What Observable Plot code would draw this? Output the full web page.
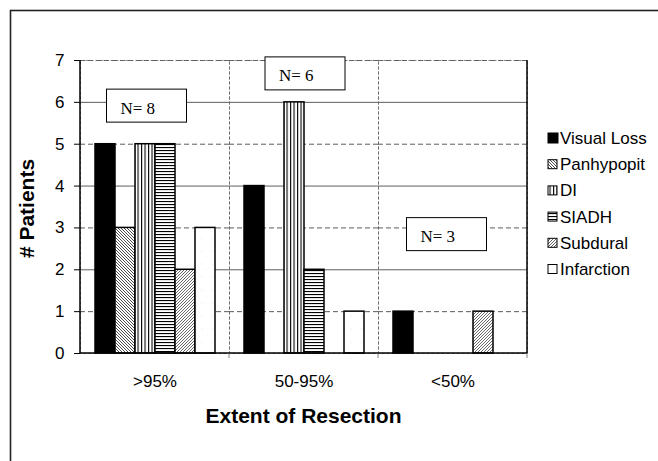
<!DOCTYPE html>
<html><head><meta charset="utf-8">
<script src="https://cdn.jsdelivr.net/npm/d3@7"></script>
<script src="https://cdn.jsdelivr.net/npm/@observablehq/plot@0.6"></script>
<style>body{margin:0;background:#fff}</style>
</head><body><div id="chart"></div>
<script>
// ---- data ----
const groups = [">95%", "50-95%", "<50%"];
const series = ["Visual Loss", "Panhypopit", "DI", "SIADH", "Subdural", "Infarction"];
const visualLoss = [5, 4, 1];
const panhypopit = [3, 0, 0];
const di = [5, 6, 0];
const siadh = [5, 2, 0];
const subdural = [2, 0, 1];
const infarction = [3, 1, 0];
const groupN = [8, 6, 3];
const yTicks = [0, 1, 2, 3, 4, 5, 6, 7];
const xTitle = "Extent of Resection";
const yTitle = "# Patients";

// ---- annotation layout (box centre: pixel offset from group centre, y in data units) ----
const annotDx = [-8, 1.5, -6];
const annotY = [5.91, 6.68, 2.84];

const seriesValues = [visualLoss, panhypopit, di, siadh, subdural, infarction];
const rows = [];
series.forEach((s, i) => groups.forEach((g, j) => rows.push({group: g, series: s, value: seriesValues[i][j]})));
const bars = rows.filter(d => d.value > 0);

const patternIds = ["pVL", "pPan", "pDI", "pSI", "pSub", "pInf"];
const W = 658, H = 461, mL = 79, mR = 130, mT = 60, mB = 108;
const SANS = "'Liberation Sans', Arial, sans-serif";

const plot = Plot.plot({
  width: W, height: H, marginLeft: mL, marginRight: mR, marginTop: mT, marginBottom: mB,
  style: {fontFamily: SANS, fontSize: "17px", color: "#000", background: "transparent"},
  facet: {data: bars, x: "group"},
  fx: {domain: groups, paddingInner: 0, paddingOuter: 0, label: null, axis: "bottom", tickSize: 0, tickPadding: 21},
  x: {domain: series, paddingInner: 0, paddingOuter: 0.7, axis: null},
  y: {domain: [0, 7], ticks: yTicks, tickSize: 6, tickPadding: 10, label: null, tickFormat: d => String(d)},
  color: {domain: series, range: patternIds.map(id => `url(#${id})`)},
  marks: [
    Plot.ruleY(yTicks.filter(v => v > 0 && v % 2 === 0), {stroke: "#333", strokeWidth: 0.8}),
    Plot.ruleY(yTicks.filter(v => v > 0 && v % 2 === 1), {stroke: "#333", strokeWidth: 0.8, strokeDasharray: "5,3"}),
    Plot.frame({stroke: "#666", strokeDasharray: "3,2", strokeWidth: 0.8}),
    Plot.barY(bars, {x: "series", y: "value", fill: "series", stroke: "#000", strokeWidth: 1.5})
  ]
});
document.getElementById("chart").appendChild(plot);

const svg = d3.select(plot);
// force tick label font size
svg.selectAll('g[aria-label*="tick label"]').attr("font-size", 17).style("font-size", "17px");
svg.selectAll('g[aria-label*="tick label"] text').style("font-size", "17px").attr("fill", "#000");

// ---- patterns ----
const defs = svg.insert("defs", ":first-child");
function pat(id, w, h, build) {
  const p = defs.append("pattern").attr("id", id).attr("patternUnits", "userSpaceOnUse")
    .attr("width", w).attr("height", h);
  p.append("rect").attr("width", w).attr("height", h).attr("fill", "#fff");
  build(p);
}
pat("pVL", 4, 4, p => p.append("rect").attr("width", 4).attr("height", 4).attr("fill", "#000"));
pat("pPan", 3, 3, p => p.append("path").attr("d", "M0,0L3,3M-1,2L1,4M2,-1L4,1").attr("stroke", "#000").attr("stroke-width", 0.7));
pat("pDI", 3.5, 4, p => p.append("rect").attr("x", 0).attr("width", 1.1).attr("height", 4).attr("fill", "#000"));
pat("pSI", 4, 3, p => p.append("rect").attr("y", 0).attr("width", 4).attr("height", 1.1).attr("fill", "#000"));
pat("pSub", 3, 3, p => p.append("path").attr("d", "M0,3L3,0M-1,1L1,-1M2,4L4,2").attr("stroke", "#000").attr("stroke-width", 0.6));
pat("pInf", 11, 13, p => {
  p.append("circle").attr("cx", 3).attr("cy", 4).attr("r", 0.4).attr("fill", "#bbb");
  p.append("circle").attr("cx", 8).attr("cy", 10).attr("r", 0.3).attr("fill", "#ccc");
});

// ---- scales ----
const fx = plot.scale("fx");
const ys = plot.scale("y");
const bw = fx.bandwidth;
const left = fx.apply(groups[0]);
const right = fx.apply(groups[groups.length - 1]) + bw;
const y0 = ys.apply(0), y7 = ys.apply(7);

const g = svg.append("g").attr("text-anchor", "start");
// outer page frame (cut off at right/bottom)
g.append("rect").attr("x", 10.5).attr("y", 10.5).attr("width", 800).attr("height", 600)
  .attr("fill", "none").attr("stroke", "#222").attr("stroke-width", 1.6);
// plot-area solid edges
g.append("line").attr("x1", left).attr("x2", left).attr("y1", y7).attr("y2", y0).attr("stroke", "#000").attr("stroke-width", 1.5);
g.append("line").attr("x1", right).attr("x2", right).attr("y1", y7).attr("y2", y0).attr("stroke", "#000").attr("stroke-width", 1.5);
g.append("line").attr("x1", left).attr("x2", right).attr("y1", y0).attr("y2", y0).attr("stroke", "#000").attr("stroke-width", 1.5);
// small ticks below axis at group boundaries
groups.forEach(gr => {
  const xb = fx.apply(gr) + bw;
  g.append("line").attr("x1", xb).attr("x2", xb).attr("y1", y0).attr("y2", y0 + 5).attr("stroke", "#666").attr("stroke-width", 0.8);
});

// N boxes
groups.forEach((gr, i) => {
  const cx = fx.apply(gr) + bw / 2 + annotDx[i];
  const cy = ys.apply(annotY[i]);
  g.append("rect").attr("x", cx - 40).attr("y", cy - 16.5).attr("width", 80).attr("height", 33)
    .attr("fill", "#fff").attr("stroke", "#000").attr("stroke-width", 1);
  g.append("text").attr("x", cx - 26).attr("y", cy + 8).attr("text-anchor", "start")
    .attr("font-family", "'Liberation Serif', 'Times New Roman', serif").attr("font-size", 17)
    .attr("fill", "#000").text(`N= ${groupN[i]}`);
});

// axis titles
g.append("text").attr("transform", `translate(34,${(y0 + y7) / 2 + 2}) rotate(-90)`)
  .attr("text-anchor", "middle").attr("font-weight", "bold").attr("font-size", 21).attr("fill", "#000").text(yTitle);
g.append("text").attr("x", (left + right) / 2).attr("y", 422.5)
  .attr("text-anchor", "middle").attr("font-weight", "bold").attr("font-size", 21).attr("fill", "#000").text(xTitle);

// legend
const lg = svg.append("g").attr("text-anchor", "start");
series.forEach((s, i) => {
  const cy = 138 + i * 26.2;
  const sz = i === 0 ? 10 : 9;
  lg.append("rect").attr("x", 548).attr("y", cy - sz / 2).attr("width", sz).attr("height", sz)
    .attr("fill", `url(#${patternIds[i]})`).attr("stroke", "#000").attr("stroke-width", 1);
  lg.append("text").attr("x", 560).attr("y", cy + 6).attr("text-anchor", "start")
    .attr("font-size", 17).attr("fill", "#000").text(s);
});
</script>
</body></html>
